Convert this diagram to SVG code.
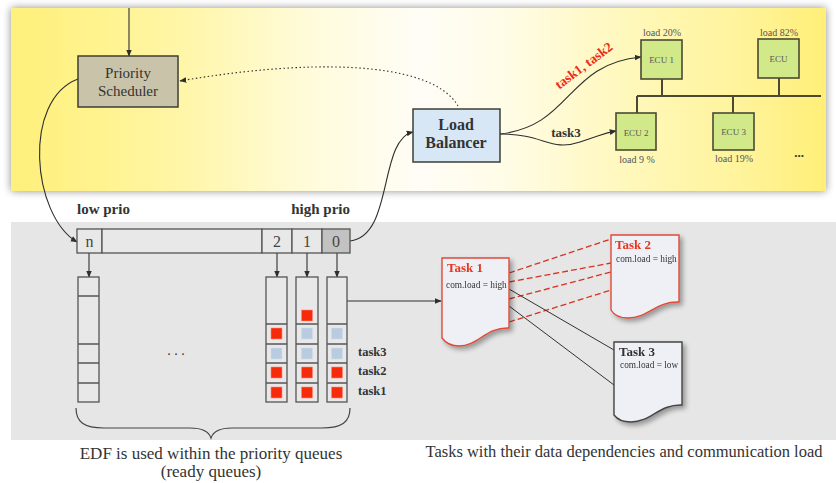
<svg xmlns="http://www.w3.org/2000/svg" width="836" height="483" viewBox="0 0 836 483" font-family="'Liberation Serif', 'DejaVu Serif', serif">
  <defs>
    <linearGradient id="panelGrad" x1="0" y1="0" x2="1" y2="0">
      <stop offset="0" stop-color="#fef07a"/>
      <stop offset="0.12" stop-color="#fff391"/>
      <stop offset="0.22" stop-color="#fff6ab"/>
      <stop offset="0.36" stop-color="#fffbd9"/>
      <stop offset="0.5" stop-color="#fffdf6"/>
      <stop offset="0.6" stop-color="#fffce8"/>
      <stop offset="0.75" stop-color="#fff8bd"/>
      <stop offset="0.9" stop-color="#fff39a"/>
      <stop offset="1" stop-color="#ffef78"/>
    </linearGradient>
    <filter id="panelShadow" x="-5%" y="-20%" width="110%" height="140%">
      <feGaussianBlur in="SourceAlpha" stdDeviation="4"/>
      <feComponentTransfer><feFuncA type="linear" slope="0.45"/></feComponentTransfer>
      <feMerge><feMergeNode/><feMergeNode in="SourceGraphic"/></feMerge>
    </filter>
    <filter id="docShadow" x="-20%" y="-20%" width="150%" height="150%">
      <feGaussianBlur in="SourceAlpha" stdDeviation="2.5"/>
      <feOffset dx="3" dy="3" result="b"/>
      <feComponentTransfer><feFuncA type="linear" slope="0.35"/></feComponentTransfer>
      <feMerge><feMergeNode/><feMergeNode in="SourceGraphic"/></feMerge>
    </filter>
    <marker id="arrow" viewBox="0 0 10 10" refX="9" refY="5" markerWidth="7" markerHeight="7" orient="auto" markerUnits="userSpaceOnUse">
      <path d="M0,1 L10,5 L0,9 Z" fill="#2e2e2e"/>
    </marker>
  </defs>
  <style>
    text { font-family: 'Liberation Serif', 'DejaVu Serif', serif; fill: #333; }
    .b { font-weight: bold; }
    .box { stroke: #3e3e34; stroke-width: 1.5; }
    .ecu { fill: #d2e98a; stroke: #4a4a34; stroke-width: 1.6; }
    .ecuTxt { font-size: 9px; fill: #555; text-anchor: middle; }
    .loadTxt { font-size: 10px; fill: #555; text-anchor: middle; }
    .bus { stroke: #4a4a34; stroke-width: 2; fill: none; }
    .conn { stroke: #2e2e2e; stroke-width: 1.1; fill: none; }
    .cell { fill: #e8e8e8; stroke: #555; stroke-width: 1.3; }
    .qnum { font-size: 16px; fill: #444; text-anchor: middle; }
    .red { fill: #f72a0a; stroke: #ff8a7a; stroke-width: 0.6; }
    .blue { fill: #b9cbe0; stroke: #d0dcea; stroke-width: 0.6; }
    .tlabel { font-size: 12.5px; font-weight: bold; }
    .doc { fill: #eef0f5; stroke-width: 1.4; }
    .dep { stroke: #d8321f; stroke-width: 1.3; stroke-dasharray: 6 3; fill: none; }
    .dep3 { stroke: #333; stroke-width: 1; fill: none; }
    .load { font-size: 9.3px; fill: #333; }
  </style>

  <!-- background panels -->
  <rect x="11" y="222" width="825" height="218" fill="#e6e6e6"/>
  <rect x="11" y="8" width="815" height="183" fill="url(#panelGrad)" filter="url(#panelShadow)"/>

  <!-- connectors -->
  <g id="connectors">
    <line class="conn" x1="129" y1="8" x2="129" y2="56" marker-end="url(#arrow)"/>
    <path class="conn" d="M458,106 C430,58 300,60 180,81" stroke-dasharray="1.5 2.5" marker-end="url(#arrow)"/>
    <path class="conn" d="M78,79 C22,100 32,215 77,242" marker-end="url(#arrow)"/>
    <path class="conn" d="M350,241 C394,236 378,140 413,132" marker-end="url(#arrow)"/>
    <path class="conn" d="M500,134 C572,126 566,64 641,57" marker-end="url(#arrow)"/>
    <path class="conn" d="M500,134 C545,134 550,152 580,142 S605,133 616,131" marker-end="url(#arrow)"/>
    <line class="conn" x1="89" y1="253" x2="89" y2="277" marker-end="url(#arrow)"/>
    <line class="conn" x1="277" y1="253" x2="277" y2="277" marker-end="url(#arrow)"/>
    <line class="conn" x1="307" y1="253" x2="307" y2="277" marker-end="url(#arrow)"/>
    <line class="conn" x1="337" y1="253" x2="337" y2="277" marker-end="url(#arrow)"/>
    <line class="conn" x1="347" y1="301" x2="441" y2="301" marker-end="url(#arrow)"/>
    <line class="dep" x1="509" y1="273" x2="611" y2="239"/>
    <line class="dep" x1="509" y1="282" x2="611" y2="263"/>
    <line class="dep" x1="509" y1="299" x2="611" y2="272"/>
    <line class="dep" x1="509" y1="322" x2="611" y2="290"/>
    <line class="dep3" x1="509" y1="289" x2="614" y2="350"/>
    <line class="dep3" x1="509" y1="306" x2="614" y2="385"/>
    <!-- ECU bus -->
    <path class="bus" d="M637,96 H821 M662,79 V96 M779,78 V96 M637,96 V113 M733,96 V113"/>
  </g>

  <text x="584" y="70" class="b" font-size="13.5" style="fill:#ee2a18" text-anchor="middle" transform="rotate(-37 584 66)">task1, task2</text>
  <text x="566" y="137" class="b" font-size="13" text-anchor="middle">task3</text>

  <g id="priority-scheduler">
    <rect class="box" x="78" y="56" width="100" height="51" fill="#c9c4a9"/>
    <text x="128" y="78" font-size="15" text-anchor="middle">Priority</text>
    <text x="128" y="96" font-size="15" text-anchor="middle">Scheduler</text>
  </g>

  <g id="load-balancer">
    <rect class="box" x="413" y="109" width="87" height="53" fill="#d8e7f5"/>
    <text x="456" y="130" class="b" font-size="16" text-anchor="middle">Load</text>
    <text x="456" y="148" class="b" font-size="16" text-anchor="middle">Balancer</text>
  </g>

  <g id="ecu1">
    <rect class="ecu" x="641" y="40" width="41" height="39"/>
    <text class="ecuTxt" x="661.5" y="63">ECU 1</text>
    <text class="loadTxt" x="662" y="36">load 20%</text>
  </g>
  <g id="ecu">
    <rect class="ecu" x="758" y="39" width="41" height="39"/>
    <text class="ecuTxt" x="778.5" y="62">ECU</text>
    <text class="loadTxt" x="779" y="36">load 82%</text>
  </g>
  <g id="ecu2">
    <rect class="ecu" x="616" y="113" width="40" height="37"/>
    <text class="ecuTxt" x="636" y="136">ECU 2</text>
    <text class="loadTxt" x="637" y="163">load 9 %</text>
  </g>
  <g id="ecu3">
    <rect class="ecu" x="713" y="113" width="41" height="37"/>
    <text class="ecuTxt" x="733.5" y="135">ECU 3</text>
    <text class="loadTxt" x="734" y="162">load 19%</text>
  </g>
  <text x="799" y="157" font-size="13" text-anchor="middle" class="b">...</text>

  <text x="77" y="214" class="b" font-size="15">low prio</text>
  <text x="350" y="214" class="b" font-size="15" text-anchor="end">high prio</text>

  <g id="priority-array">
    <rect class="cell" x="77" y="229" width="25" height="24"/>
    <rect class="cell" x="102" y="229" width="160" height="24"/>
    <rect class="cell" x="262" y="229" width="30" height="24"/>
    <rect class="cell" x="292" y="229" width="30" height="24"/>
    <rect class="cell" x="322" y="229" width="28" height="24" style="fill:#c2c2c2"/>
    <text class="qnum" x="89.5" y="247">n</text>
    <text class="qnum" x="277" y="247">2</text>
    <text class="qnum" x="307" y="247">1</text>
    <text class="qnum" x="336" y="247">0</text>
  </g>

  <g id="queue-n">
    <rect class="cell" x="78" y="277" width="21" height="125"/>
    <path d="M78,296 H99 M78,344 H99 M78,363 H99 M78,383 H99" stroke="#555" stroke-width="1.3"/>
  </g>
  <text x="176" y="355" font-size="14" text-anchor="middle">. . .</text>

  <g id="queue-2">
    <rect class="cell" x="266" y="277" width="21" height="125"/>
    <path d="M266,324 H287 M266,344 H287 M266,363 H287 M266,383 H287" stroke="#555" stroke-width="1.3"/>
    <rect class="red" x="271" y="328" width="11" height="11"/>
    <rect class="blue" x="271" y="348" width="11" height="11"/>
    <rect class="red" x="271" y="367" width="11" height="11"/>
    <rect class="red" x="271" y="387" width="11" height="11"/>
  </g>
  <g id="queue-1">
    <rect class="cell" x="296" y="277" width="22" height="125"/>
    <path d="M296,324 H318 M296,344 H318 M296,363 H318 M296,383 H318" stroke="#555" stroke-width="1.3"/>
    <rect class="red" x="301.5" y="310" width="11" height="11"/>
    <rect class="blue" x="301.5" y="328" width="11" height="11"/>
    <rect class="blue" x="301.5" y="348" width="11" height="11"/>
    <rect class="red" x="301.5" y="367" width="11" height="11"/>
    <rect class="red" x="301.5" y="387" width="11" height="11"/>
  </g>
  <g id="queue-0">
    <rect class="cell" x="327" y="277" width="20" height="125"/>
    <path d="M327,324 H347 M327,344 H347 M327,363 H347 M327,383 H347" stroke="#555" stroke-width="1.3"/>
    <rect class="blue" x="331.5" y="328" width="11" height="11"/>
    <rect class="blue" x="331.5" y="348" width="11" height="11"/>
    <rect class="red" x="331.5" y="367" width="11" height="11"/>
    <rect class="red" x="331.5" y="387" width="11" height="11"/>
  </g>
  <text class="tlabel" x="358" y="356">task3</text>
  <text class="tlabel" x="358" y="375">task2</text>
  <text class="tlabel" x="358" y="395">task1</text>

  <!-- brace under the ready queues -->
  <path d="M76,408 C76,422 84,428 104,428 L190,428 C203,428 209,432 211,438 C213,432 219,428 232,428 L322,428 C342,428 350,422 350,408" fill="none" stroke="#444" stroke-width="1.2"/>
  <text x="211" y="459" font-size="17" text-anchor="middle">EDF is used within the priority queues</text>
  <text x="211" y="477" font-size="17" text-anchor="middle">(ready queues)</text>

  <g id="task1" filter="url(#docShadow)">
    <path class="doc" stroke="#e04a38" d="M442,258 H509 V328 C486,327 478,346 459,346 C451,346 445,342 442,338 Z"/>
    <text x="447" y="272" class="b" font-size="13" style="fill:#e8341f">Task 1</text>
    <text class="load" x="446" y="288">com.load = high</text>
  </g>
  <g id="task2" filter="url(#docShadow)">
    <path class="doc" stroke="#e04a38" d="M611,235 H679 V302 C656,301 648,318 628,318 C620,318 614,315 611,310 Z"/>
    <text x="615" y="249" class="b" font-size="13" style="fill:#e8341f">Task 2</text>
    <text class="load" x="616" y="262">com.load = high</text>
  </g>
  <g id="task3" filter="url(#docShadow)">
    <path class="doc" stroke="#444" d="M614,342 H682 V405 C659,404 651,422 631,422 C623,422 617,419 614,415 Z"/>
    <text x="619" y="356" class="b" font-size="13">Task 3</text>
    <text class="load" x="620" y="368">com.load = low</text>
  </g>

  <text x="624" y="457" font-size="16.5" text-anchor="middle">Tasks with their data dependencies and communication load</text>
</svg>
